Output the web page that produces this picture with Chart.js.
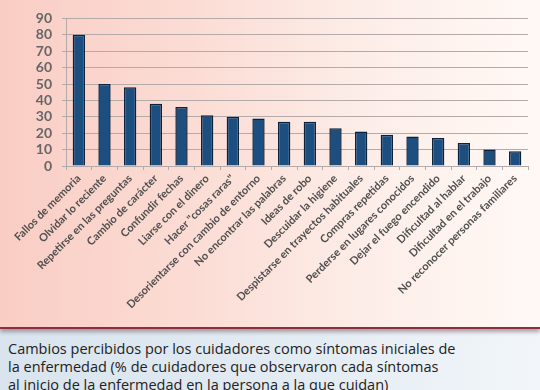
<!DOCTYPE html>
<html>
<head>
<meta charset="utf-8">
<script src="https://cdn.jsdelivr.net/npm/chart.js@4/dist/chart.umd.min.js"></script>
<style>
    body { margin: 0; width: 540px; height: 390px; overflow: hidden; background: #dfe8f0; }
    #chartBox {
        position: relative;
        width: 540px;
        height: 327px;
        background: linear-gradient(to right, #f9cdc4 0%, #fbdcd4 35%, #fdeee9 70%, #fff9f6 100%);
        border-bottom: 2px solid #8c2f3a;
        box-shadow: 0 3px 4px rgba(90, 60, 70, 0.45);
    }
    #caption {
        padding: 11px 0 0 8px;
        height: 50px;
        background: linear-gradient(to right, #d9e4ee 0%, #e4ecf3 60%, #f2f6fa 100%);
        font-family: "Open Sans", sans-serif;
        font-size: 14.5px;
        line-height: 18px;
        color: #222;
        white-space: nowrap;
    }
</style>
</head>
<body>
<div id="chartBox"><canvas id="myChart" width="540" height="327"></canvas></div>
<div id="caption">
    Cambios percibidos por los cuidadores como síntomas iniciales de<br>
    la enfermedad (% de cuidadores que observaron cada síntomas<br>
    al inicio de la enfermedad en la persona a la que cuidan)
</div>
<script>
// categories and values
const categories = [
    'Fallos de memoria',
    'Olvidar lo reciente',
    'Repetirse en las preguntas',
    'Cambio de carácter',
    'Confundir fechas',
    'Liarse con el dinero',
    'Hacer "cosas raras"',
    'Desorientarse con cambio de entorno',
    'No encontrar las palabras',
    'Ideas de robo',
    'Descuidar la higiene',
    'Despistarse en trayectos habituales',
    'Compras repetidas',
    'Perderse en lugares conocidos',
    'Dejar el fuego encendido',
    'Dificultad al hablar',
    'Dificultad en el trabajo',
    'No reconocer personas familiares'
];
const percentages = [80, 50, 48, 38, 36, 31, 30, 29, 27, 27, 23, 21, 19, 18, 17, 14, 10, 9];
const yMin = 0;
const yMax = 90;
const yStep = 10;

var ctx = document.getElementById('myChart').getContext('2d');
var chart = new Chart(ctx, {
    type: 'bar',
    data: {
        labels: categories,
        datasets: [{
            data: percentages,
            backgroundColor: '#1c4f80',
            borderColor: '#0b2238',
            borderWidth: 1.5,
            barPercentage: 0.48,
            categoryPercentage: 1
        }]
    },
    options: {
        responsive: false,
        animation: false,
        layout: {
            padding: { left: 0, right: 12, top: 15, bottom: 0 }
        },
        plugins: {
            legend: { display: false },
            tooltip: { enabled: false }
        },
        scales: {
            y: {
                min: yMin,
                max: yMax,
                afterFit: function (scale) { scale.width = 66; },
                grid: {
                    color: '#b3aaa9',
                    lineWidth: 1,
                    tickLength: 4
                },
                border: { color: '#b3aaa9' },
                ticks: {
                    stepSize: yStep,
                    autoSkip: false,
                    padding: 10,
                    color: '#666666',
                    font: { family: 'Lato', weight: 'bold', size: 14 }
                }
            },
            x: {
                afterFit: function (scale) { scale.height = 327 - 166; },
                grid: {
                    offset: true,
                    drawOnChartArea: false,
                    color: '#b3aaa9',
                    tickLength: 4
                },
                border: { color: '#b3aaa9' },
                ticks: {
                    autoSkip: false,
                    maxRotation: 45,
                    minRotation: 45,
                    padding: 2,
                    color: '#4f4f4f',
                    font: { family: 'Lato', weight: 'bold', size: 11 }
                }
            }
        }
    }
});
</script>
</body>
</html>
